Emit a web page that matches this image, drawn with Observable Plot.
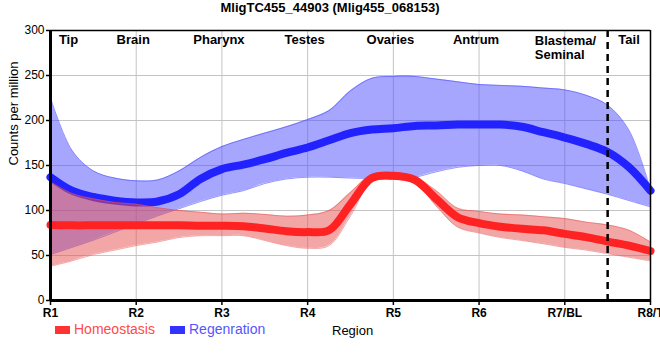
<!DOCTYPE html>
<html>
<head>
<meta charset="utf-8">
<script src="https://cdn.jsdelivr.net/npm/d3@7"></script>
<script src="https://cdn.jsdelivr.net/npm/@observablehq/plot@0.6"></script>
<style>
  body { margin: 0; background: #fff; font-family: "Liberation Sans", Arial, sans-serif; }
  #wrap { position: relative; width: 660px; height: 360px; overflow: hidden; }
  #chart { position: absolute; left: 0; top: 0; }
  .abs { position: absolute; white-space: nowrap; }
  #title { left: 0; width: 660px; top: 0px; text-align: center; font-weight: bold; font-size: 13px; color: #000; }
  .sw { position: absolute; width: 15px; height: 8px; }
  .leg { font-size: 14px; }
</style>
</head>
<body>
<div id="wrap">
  <div id="chart"></div>
  <div id="title" class="abs">MligTC455_44903 (Mlig455_068153)</div>
  <div class="sw" style="left:55px; top:326px; background:#ff3333;"></div>
  <div class="abs leg" style="left:74px; top:321px; color:#ff4a4a;">Homeostasis</div>
  <div class="sw" style="left:170px; top:326px; background:#3333ff;"></div>
  <div class="abs leg" style="left:189px; top:321px; color:#5555ff;">Regenration</div>
  <div class="abs" style="left:332px; top:323px; font-size:13px; color:#000;">Region</div>
</div>
<script>
// ---- data ----
const xTickLabels = ["R1", "R2", "R3", "R4", "R5", "R6", "R7/BL", "R8/T"];
const regionNames = ["Tip", "Brain", "Pharynx", "Testes", "Ovaries", "Antrum", "Blastema/\nSeminal", "Tail"];
const yTicks = [0, 50, 100, 150, 200, 250, 300];
const tailBoundary = 7.5;

const xs = [1, 1.25, 1.5, 1.75, 2, 2.25, 2.5, 2.75, 3, 3.25, 3.5, 3.75, 4, 4.25, 4.5, 4.75, 5, 5.25, 5.5, 5.75, 6, 6.25, 6.5, 6.75, 7, 7.25, 7.5, 7.75, 8];

const regenMean = [137, 122, 115, 111, 109, 110, 118, 135, 146, 151, 157, 164, 170, 178, 186, 190, 191.5, 194, 194.5, 195.5, 195.5, 195.5, 193, 187, 181, 174, 165, 148, 122];
const regenHi   = [225, 167, 144, 136, 133, 134, 144, 159, 171, 179, 186, 193, 201, 211, 233, 247, 249, 249, 246, 243, 240, 239, 238, 236, 234, 228, 217, 189, 123];
const regenLo   = [51, 59, 67, 76, 85, 94, 102, 110, 117, 122, 130, 135, 137, 137, 136, 135.5, 135, 137, 143, 148, 150, 150, 144, 135, 130, 124, 118, 111, 104];

const homeoMean = [84, 83.5, 83.5, 83.5, 83.5, 83.5, 83.5, 83, 83, 82.5, 80, 77, 76, 78, 107, 136, 138.5, 134, 113, 92.6, 86, 82, 79.6, 78, 74, 70.4, 65.5, 61, 55];
const homeoHi   = [132, 119, 113, 109, 107, 103, 100, 98, 96, 97, 95.6, 93.7, 95, 100, 120, 140, 140, 137, 122, 102.6, 99, 96, 95, 93, 91, 87, 84, 78, 65];
const homeoLo   = [38, 44, 51, 56, 61, 65, 70, 72, 72, 72, 66.7, 61, 58, 61, 94, 133, 135, 131, 105, 81.5, 75, 70, 66.7, 63, 59, 56, 52, 48, 44];

// ---- build table ----
const rows = xs.map((x, i) => ({
  x,
  rm: regenMean[i], rh: regenHi[i], rl: regenLo[i],
  hm: homeoMean[i], hh: homeoHi[i], hl: homeoLo[i]
}));
const xTicks = xTickLabels.map((_, i) => i + 1);

const blue = "#2222ff", blueFill = "#4d4dff";
const red = "#ff2222", redFill = "#e64d4d";
const curve = "catmull-rom";
const font = "Liberation Sans, Arial, sans-serif";

const regionMain = regionNames.slice(1, 6).map((name, i) => ({ name, x: i + 2 }));

const chart = Plot.plot({
  width: 660, height: 360,
  marginLeft: 50, marginRight: 10, marginTop: 30, marginBottom: 60,
  style: { fontFamily: font, background: "white", overflow: "visible" },
  x: { domain: [1, 8], axis: null },
  y: { domain: [0, 300], axis: null },
  marks: [
    Plot.gridX(xTicks, { stroke: "#c4c4c4", strokeOpacity: 1, strokeWidth: 1 }),
    Plot.gridY(yTicks, { stroke: "#c4c4c4", strokeOpacity: 1, strokeWidth: 1 }),
    // Regeneration band + line
    Plot.areaY(rows, { x: "x", y1: "rl", y2: "rh", fill: blueFill, fillOpacity: 0.5, curve }),
    Plot.line(rows, { x: "x", y: "rh", stroke: blueFill, strokeOpacity: 0.6, strokeWidth: 1, curve }),
    Plot.line(rows, { x: "x", y: "rl", stroke: blueFill, strokeOpacity: 0.6, strokeWidth: 1, curve }),
    Plot.line(rows, { x: "x", y: "rm", stroke: blue, strokeWidth: 8, curve }),
    // Homeostasis band + line
    Plot.areaY(rows, { x: "x", y1: "hl", y2: "hh", fill: redFill, fillOpacity: 0.5, curve }),
    Plot.line(rows, { x: "x", y: "hh", stroke: redFill, strokeOpacity: 0.5, strokeWidth: 1, curve }),
    Plot.line(rows, { x: "x", y: "hl", stroke: redFill, strokeOpacity: 0.5, strokeWidth: 1, curve }),
    Plot.line(rows, { x: "x", y: "hm", stroke: red, strokeWidth: 8, curve }),
    // tail boundary
    Plot.ruleX([tailBoundary], { stroke: "black", strokeWidth: 2.5, strokeDasharray: "7,5" }),
    // frame
    Plot.ruleY([300], { stroke: "black", strokeWidth: 1.5 }),
    Plot.ruleX([8], { stroke: "black", strokeWidth: 1.5 }),
    Plot.ruleX([1], { stroke: "black", strokeWidth: 3 }),
    Plot.ruleY([0], { stroke: "black", strokeWidth: 3 }),
    // axes
    Plot.axisX(xTicks, { tickFormat: (d) => xTickLabels[d - 1], tickSize: 5, tickPadding: 3, fontSize: 12, fill: "black", stroke: "black", strokeWidth: 1.5, fontWeight: "bold", label: null }),
    Plot.axisY(yTicks, { tickSize: 4, tickPadding: 2, fontSize: 12, fill: "black", stroke: "black", strokeWidth: 1.5, label: null }),
    // y label
    Plot.text(["Counts per million"], { frameAnchor: "left", rotate: -90, dx: -37, fontSize: 13, fill: "black" }),
    // region labels
    Plot.text(regionMain, { x: "x", frameAnchor: "top", lineAnchor: "top", text: "name", dy: 4, dx: -3, fontSize: 13, fontWeight: "bold", fill: "black" }),
    Plot.text([regionNames[0]], { x: 1, frameAnchor: "top", lineAnchor: "top", dy: 4, dx: 18, fontSize: 13, fontWeight: "bold", fill: "black" }),
    Plot.text([regionNames[6]], { x: 7, frameAnchor: "top", lineAnchor: "top", dy: 4, dx: -30, textAnchor: "start", lineHeight: 1.1, fontSize: 13, fontWeight: "bold", fill: "black" }),
    Plot.text([regionNames[7]], { x: (tailBoundary + 8) / 2, frameAnchor: "top", lineAnchor: "top", dy: 4, dx: 0, fontSize: 13, fontWeight: "bold", fill: "black" })
  ]
});
document.getElementById("chart").appendChild(chart);
</script>
</body>
</html>
